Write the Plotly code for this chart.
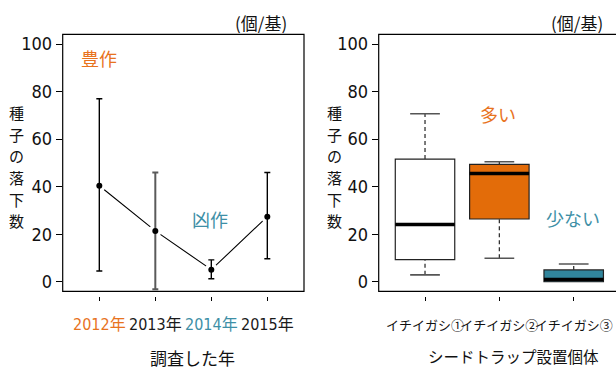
import plotly.graph_objects as go

# ---- survey-year panel: mean seed fall per trap with min/max range ----
years = ["2012年", "2013年", "2014年", "2015年"]
year_colors = ["#E8731E", "#1a1a1a", "#3E8FA6", "#1a1a1a"]
seed_mean = [40.4, 21.4, 5.1, 27.4]
seed_max = [77.0, 46.0, 9.2, 46.0]
seed_min = [4.5, -3.2, 1.3, 9.7]
bar_colors = ["#000000", "#5a5a5a", "#000000", "#000000"]

# ---- per-tree panel: box statistics ----
trees = ["イチイガシ①", "イチイガシ②", "イチイガシ③"]
q1 = [9.3, 26.4, 0.0]
median = [24.1, 45.6, 1.0]
q3 = [51.6, 49.4, 5.0]
lower_fence = [2.9, 9.9, 0.0]
upper_fence = [70.7, 50.5, 7.5]
box_fill = ["#FFFFFF", "#E36C09", "#31859C"]

y_ticks = [0, 20, 40, 60, 80, 100]

ORANGE = "#E8731E"
TEAL = "#3E8FA6"
NUM_FONT = "Liberation Sans Narrow, Arial Narrow, DejaVu Sans Condensed, Noto Sans CJK JP"
JP_FONT = "Noto Sans CJK JP, Liberation Sans Narrow, sans-serif"

W, H = 616, 369
def px_x(p):
    return p / W
def px_y(p):
    return 1 - p / H

dom_y = [px_y(292), px_y(33.5)]
dom_x1 = [px_x(62.7), px_x(304)]
dom_x2 = [px_x(378.7), 1.0]
yr = [-4.06, 104.1]

fig = go.Figure()

xpos = [i + 1 for i in range(len(years))]

# connecting line, broken around each point by white marker halos
fig.add_trace(go.Scatter(
    x=xpos, y=seed_mean, mode="lines+markers",
    line=dict(color="#000000", width=1.1),
    marker=dict(color="#FFFFFF", size=13, line=dict(width=0)),
    xaxis="x", yaxis="y", hoverinfo="skip", showlegend=False,
))

# range bars and mean points
for i in range(len(years)):
    fig.add_trace(go.Scatter(
        x=[xpos[i]], y=[seed_mean[i]], mode="markers",
        marker=dict(color="#000000", size=6),
        error_y=dict(
            type="data", symmetric=False,
            array=[seed_max[i] - seed_mean[i]],
            arrayminus=[seed_mean[i] - seed_min[i]],
            color=bar_colors[i],
            thickness=2 if bar_colors[i] != "#000000" else 1.4,
            width=3,
        ),
        xaxis="x", yaxis="y", showlegend=False,
    ))

# boxes
tpos = [i + 1 for i in range(len(trees))]
for i in range(len(trees)):
    fig.add_trace(go.Box(
        x=[tpos[i]], q1=[q1[i]], median=[median[i]], q3=[q3[i]],
        lowerfence=[q1[i]], upperfence=[q3[i]],
        width=0.8, fillcolor=box_fill[i],
        line=dict(color="#222222", width=1.2),
        whiskerwidth=0, boxpoints=False,
        xaxis="x2", yaxis="y2", showlegend=False,
    ))
    # dashed whiskers
    for a, b in ((q3[i], upper_fence[i]), (lower_fence[i], q1[i])):
        if b > a:
            fig.add_trace(go.Scatter(
                x=[tpos[i], tpos[i]], y=[a, b], mode="lines",
                line=dict(color="#333333", width=1.3, dash="4px,3px"),
                xaxis="x2", yaxis="y2", showlegend=False, hoverinfo="skip",
            ))
    # whisker caps
    for v in (lower_fence[i], upper_fence[i]):
        if v < q1[i] or v > q3[i]:
            fig.add_trace(go.Scatter(
                x=[tpos[i] - 0.2, tpos[i] + 0.2], y=[v, v], mode="lines",
                line=dict(color="#555555", width=1.6),
                xaxis="x2", yaxis="y2", showlegend=False, hoverinfo="skip",
            ))
    # heavy median line
    fig.add_trace(go.Scatter(
        x=[tpos[i] - 0.4, tpos[i] + 0.4], y=[median[i], median[i]], mode="lines",
        line=dict(color="#000000", width=3.5),
        xaxis="x2", yaxis="y2", showlegend=False, hoverinfo="skip",
    ))

year_ticktext = [f'<span style="color:{c}">{t}</span>' for t, c in zip(years, year_colors)]

common_y = dict(
    range=yr, domain=dom_y, tickvals=y_ticks, ticks="outside", ticklen=6,
    tickcolor="#000000", tickwidth=1, showline=False, showgrid=False, zeroline=False,
    tickfont=dict(family=NUM_FONT, size=18, color="#111111"),
)
common_x = dict(
    anchor="free", position=px_y(296.5), ticks="outside", ticklen=4.5,
    tickcolor="#000000", tickwidth=1, showline=False, showgrid=False, zeroline=False,
    tickangle=0,
)

fig.update_layout(
    width=W, height=H, margin=dict(l=0, r=0, t=0, b=0),
    paper_bgcolor="#FFFFFF", plot_bgcolor="#FFFFFF",
    boxmode="overlay",
    xaxis=dict(domain=dom_x1, range=[0.346, 4.655], tickvals=xpos, ticktext=year_ticktext,
               tickfont=dict(family=NUM_FONT, size=16, color="#111111"),
               ticklabelstandoff=9, **common_x),
    yaxis=dict(anchor="x", **common_y),
    xaxis2=dict(domain=dom_x2, range=[0.377, 3.569], tickvals=tpos, ticktext=trees,
                tickfont=dict(family=JP_FONT, size=13, color="#111111"),
                ticklabelstandoff=13, **common_x),
    yaxis2=dict(anchor="x2", **common_y),
    shapes=[
        dict(type="rect", xref="paper", yref="paper", x0=dom_x1[0], x1=dom_x1[1],
             y0=dom_y[0], y1=dom_y[1], line=dict(color="#000000", width=1.2)),
        dict(type="rect", xref="paper", yref="paper", x0=dom_x2[0], x1=1.02,
             y0=dom_y[0], y1=dom_y[1], line=dict(color="#000000", width=1.2)),
    ],
)

def note(text, x, y, color="#111111", size=17, xref="paper", yref="paper", family=JP_FONT, **kw):
    fig.add_annotation(text=text, x=x, y=y, xref=xref, yref=yref, showarrow=False,
                       font=dict(family=family, size=size, color=color),
                       xanchor="center", yanchor="middle", **kw)

# unit labels
note("(個/基)", px_x(261), px_y(22), size=17)
note("(個/基)", px_x(577), px_y(22), size=17)

# vertical axis titles, one character per row
ytitle = "種子の落下数"
pitch = 21.8
for cx in (16, 335):
    for k, ch in enumerate(ytitle):
        cy = 166 + (k - (len(ytitle) - 1) / 2) * pitch
        note(ch, px_x(cx), px_y(cy), size=15, height=20, borderpad=0)

# horizontal axis titles
note("調査した年", px_x(192), px_y(358), size=17)
note("シードトラップ設置個体", px_x(513), px_y(357), size=15.5)

# in-panel labels
note("豊作", 1.0, 94, color=ORANGE, size=18, xref="x", yref="y")
note("凶作", 2.98, 26.5, color=TEAL, size=18, xref="x", yref="y")
note("多い", 1.975, 70.4, color=ORANGE, size=18, xref="x2", yref="y2")
note("少ない", 2.99, 26.9, color=TEAL, size=18, xref="x2", yref="y2")

fig.write_html("out.html")
